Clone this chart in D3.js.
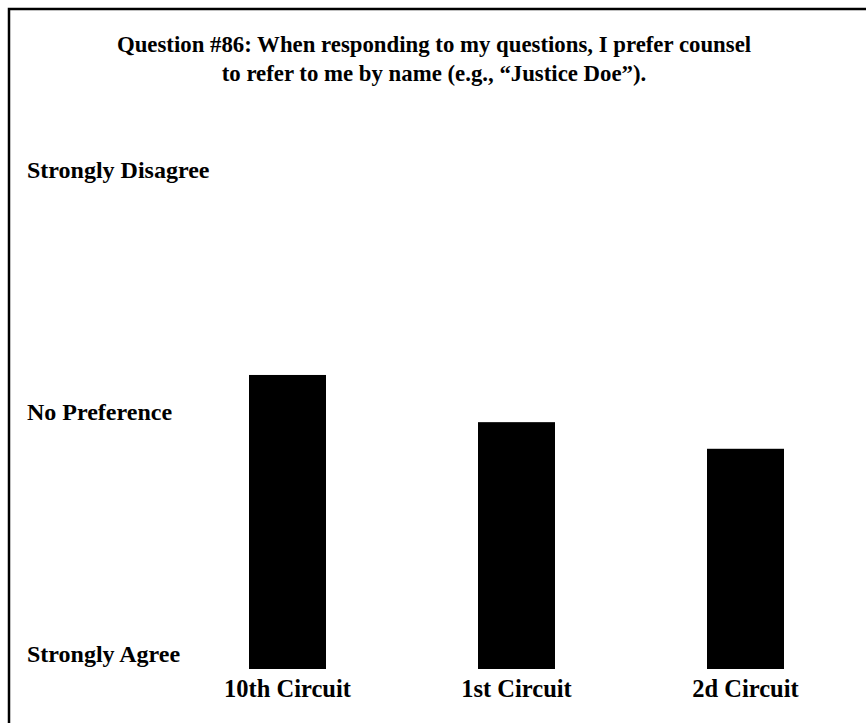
<!DOCTYPE html>
<html>
<head>
<meta charset="utf-8">
<script src="https://cdn.jsdelivr.net/npm/d3@7"></script>
<style>
  html, body { margin: 0; padding: 0; background: #fff; overflow: hidden; }
  svg { display: block; }
  text { font-family: "Liberation Serif", "Times New Roman", serif; font-weight: bold; fill: #000; }
</style>
</head>
<body>
<script>
// Survey question and responses (1 = Strongly Agree, 3 = No Preference, 5 = Strongly Disagree)
const titleLines = [
  "Question #86: When responding to my questions, I prefer counsel",
  "to refer to me by name (e.g., \u201cJustice Doe\u201d)."
];
const circuits = ["10th Circuit", "1st Circuit", "2d Circuit"];
const meanScores = [3.43, 3.04, 2.82];
const scaleValues = [1, 3, 5];
const scaleLabels = ["Strongly Agree", "No Preference", "Strongly Disagree"];

const W = 866, H = 723;
const svg = d3.select("body").append("svg").attr("width", W).attr("height", H);

// Frame (open on the right and bottom edges of the page)
svg.append("rect")
  .attr("x", 9).attr("y", 9)
  .attr("width", W + 20).attr("height", H + 20)
  .attr("fill", "none").attr("stroke", "#000").attr("stroke-width", 2.5);

// Title
svg.append("g").selectAll("text").data(titleLines).join("text")
  .attr("x", 434).attr("y", (d, i) => 52 + i * 29)
  .attr("text-anchor", "middle")
  .attr("font-size", 22.8)
  .text(d => d);

// Scales
const y = d3.scaleLinear().domain([1, 5]).range([669, 185]);
const x = d3.scalePoint().domain(circuits).range([287.5, 745.5]);
const barW = 77;

// Response scale labels
svg.append("g").selectAll("text").data(scaleValues).join("text")
  .attr("x", 27).attr("y", d => y(d) - 15)
  .attr("dominant-baseline", "central")
  .attr("font-size", 24)
  .text((d, i) => scaleLabels[i]);

// Bars
svg.append("g").selectAll("rect").data(circuits).join("rect")
  .attr("x", d => x(d) - barW / 2)
  .attr("width", barW)
  .attr("y", (d, i) => y(meanScores[i]))
  .attr("height", (d, i) => y(1) - y(meanScores[i]))
  .attr("fill", "#000");

// Category labels
svg.append("g").selectAll("text").data(circuits).join("text")
  .attr("x", d => x(d)).attr("y", 697)
  .attr("text-anchor", "middle")
  .attr("font-size", 24.5)
  .text(d => d);
</script>
</body>
</html>
